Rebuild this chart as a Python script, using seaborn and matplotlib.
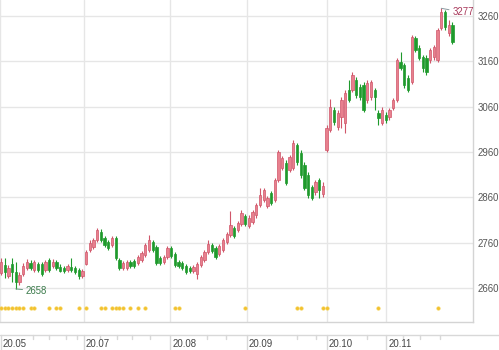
import matplotlib
matplotlib.use("Agg")
import matplotlib.pyplot as plt
import seaborn as sns
import numpy as np
import pandas as pd
from matplotlib.transforms import blended_transform_factory
from matplotlib.lines import Line2D

# ---------------- data (daily candles, late May - Nov 2020) ----------------
opens = [2693, 2711, 2686, 2713, 2695, 2673, 2691, 2704, 2715, 2700,
         2713, 2713, 2700, 2722, 2708, 2717, 2706, 2704, 2700, 2706,
         2704, 2700, 2686, 2713, 2744, 2750, 2766, 2783, 2770, 2761,
         2755, 2770, 2722, 2704, 2704, 2717, 2720, 2715, 2722, 2733,
         2744, 2761, 2750, 2726, 2717, 2728, 2748, 2735, 2717, 2715,
         2708, 2704, 2697, 2691, 2711, 2722, 2739, 2755, 2748, 2735,
         2744, 2761, 2777, 2792, 2788, 2801, 2819, 2797, 2806, 2821,
         2843, 2854, 2841, 2870, 2854, 2898, 2925, 2936, 2920, 2925,
         2975, 2958, 2931, 2909, 2883, 2872, 2898, 2867, 2964, 3008,
         3053, 3015, 3037, 3024, 3097, 3097, 3119, 3103, 3108, 3075,
         3081, 3097, 3046, 3024, 3042, 3037, 3057, 3075, 3159, 3152,
         3123, 3114, 3211, 3189, 3170, 3167, 3163, 3170, 3163, 3234,
         3269, 3223, 3240]
highs = [2726, 2726, 2711, 2726, 2717, 2695, 2715, 2724, 2722, 2722,
         2717, 2717, 2722, 2726, 2724, 2722, 2713, 2708, 2713, 2726,
         2708, 2704, 2702, 2744, 2766, 2770, 2792, 2790, 2775, 2766,
         2775, 2775, 2726, 2720, 2722, 2722, 2724, 2733, 2742, 2759,
         2777, 2766, 2755, 2731, 2733, 2753, 2753, 2739, 2722, 2720,
         2713, 2708, 2711, 2717, 2733, 2744, 2766, 2759, 2753, 2757,
         2770, 2783, 2830, 2797, 2808, 2832, 2823, 2821, 2832, 2847,
         2881, 2881, 2863, 2874, 2903, 2964, 2951, 2942, 2953, 2986,
         2980, 2964, 2938, 2916, 2887, 2898, 2903, 2894, 3020, 3077,
         3059, 3053, 3081, 3097, 3119, 3136, 3125, 3110, 3114, 3119,
         3119, 3101, 3053, 3059, 3048, 3057, 3079, 3167, 3181, 3156,
         3130, 3218, 3216, 3196, 3174, 3174, 3189, 3196, 3234, 3277,
         3273, 3251, 3247]
lows = [2689, 2682, 2682, 2673, 2658, 2667, 2686, 2700, 2700, 2695,
        2695, 2686, 2695, 2695, 2704, 2700, 2695, 2693, 2695, 2695,
        2691, 2680, 2682, 2711, 2739, 2746, 2761, 2761, 2750, 2744,
        2750, 2722, 2700, 2700, 2700, 2704, 2704, 2711, 2717, 2728,
        2739, 2739, 2711, 2711, 2713, 2724, 2726, 2706, 2704, 2700,
        2691, 2693, 2693, 2680, 2706, 2717, 2735, 2737, 2724, 2731,
        2739, 2757, 2772, 2770, 2783, 2797, 2797, 2792, 2801, 2814,
        2839, 2850, 2836, 2843, 2850, 2894, 2920, 2887, 2916, 2920,
        2931, 2903, 2876, 2859, 2854, 2865, 2859, 2861, 2960, 3004,
        3020, 3008, 3013, 3002, 3070, 3092, 3079, 3075, 3048, 3068,
        3075, 3053, 3020, 3020, 3024, 3031, 3053, 3070, 3141, 3101,
        3092, 3110, 3181, 3163, 3136, 3130, 3156, 3163, 3159, 3229,
        3229, 3216, 3198]
closes = [2717, 2695, 2704, 2695, 2673, 2689, 2708, 2717, 2704, 2717,
          2700, 2691, 2717, 2700, 2717, 2704, 2697, 2697, 2708, 2700,
          2695, 2686, 2697, 2739, 2759, 2766, 2788, 2766, 2755, 2748,
          2770, 2726, 2704, 2715, 2717, 2708, 2708, 2728, 2737, 2755,
          2766, 2744, 2715, 2715, 2728, 2748, 2731, 2711, 2708, 2704,
          2695, 2697, 2706, 2713, 2728, 2739, 2757, 2742, 2728, 2753,
          2766, 2779, 2799, 2775, 2803, 2825, 2801, 2814, 2828, 2843,
          2865, 2876, 2859, 2847, 2898, 2960, 2947, 2892, 2949, 2980,
          2938, 2909, 2881, 2865, 2859, 2894, 2876, 2885, 3013, 3059,
          3026, 3046, 3075, 3090, 3075, 3130, 3086, 3081, 3053, 3112,
          3114, 3081, 3035, 3053, 3031, 3053, 3075, 3163, 3145, 3108,
          3097, 3214, 3185, 3167, 3145, 3136, 3185, 3192, 3229, 3269,
          3236, 3240, 3203]

month_labels = ["20.05", "20.07", "20.08", "20.09", "20.10", "20.11"]
month_pos = [-0.25, 22.4, 45.7, 66.5, 88.1, 104.1]     # candle index of month boundary
minor_pos = [8.6, 13, 17.6, 20.5, 26.8, 31.4, 35.4, 40.3, 55.7, 60.8,
             80, 85.1, 99, 108.6, 113.2, 118.6]
y_ticks = [2660, 2760, 2860, 2960, 3060, 3160, 3260]
event_idx = [0, 1, 2, 3, 4, 5, 6, 8, 9, 13, 15, 16, 21, 23, 27, 28, 30, 31,
             32, 33, 35, 37, 39, 47, 48, 66, 80, 81, 87, 88, 102, 118]
event_level = 2615
max_label, min_label = "3277", "2658"

df = pd.DataFrame({"open": opens, "high": highs, "low": lows, "close": closes})
df["idx"] = np.arange(len(df))
df["up"] = df["close"] >= df["open"]

# ---------------- style ----------------
sns.set_style("white")
plt.rcParams["font.family"] = ["Liberation Sans", "DejaVu Sans"]

W, H = 499, 350
fig = plt.figure(figsize=(W / 100, H / 100), dpi=100)
ax = fig.add_axes([0, 28 / H, 473 / W, 322 / H])

RED_FILL, RED_EDGE = "#e8808e", "#d0566a"
GREEN = "#1f9a2c"
FS = 6.9

up = df[df["up"]]
dn = df[~df["up"]]
ax.vlines(up["idx"], up["low"], up["high"], color=RED_EDGE, lw=0.8, zorder=3)
ax.vlines(dn["idx"], dn["low"], dn["high"], color=GREEN, lw=0.8, zorder=3)
ax.bar(up["idx"], up["close"] - up["open"], bottom=up["open"], width=0.62,
       color=RED_FILL, edgecolor=RED_EDGE, linewidth=0.5, zorder=4)
ax.bar(dn["idx"], dn["open"] - dn["close"], bottom=dn["close"], width=0.62,
       color=GREEN, edgecolor=GREEN, linewidth=0.5, zorder=4)

ev = pd.DataFrame({"idx": event_idx, "y": [event_level] * len(event_idx)})
sns.scatterplot(data=ev, x="idx", y="y", ax=ax, color="#f3c230", s=7,
                edgecolor="#f7d96a", linewidth=0.3, zorder=5, legend=False)

ax.set_xlim(-0.27, 127.57)
ax.set_ylim(2585, 3295.3)
ax.set_yticks(y_ticks)
ax.yaxis.tick_right()
ax.tick_params(axis="y", length=0, pad=3.5, labelsize=FS, labelcolor="#555555")
ax.set_xticks(month_pos)
ax.set_xticklabels([])
ax.tick_params(axis="x", length=0)
ax.grid(True, color="#e6e6e6", lw=1)
ax.set_axisbelow(True)
ax.set_xlabel("")
ax.set_ylabel("")
for s in ["left", "top"]:
    ax.spines[s].set_visible(False)
ax.spines["right"].set_color("#d4d4d4")
ax.spines["bottom"].set_color("#d4d4d4")
ax.spines["right"].set_linewidth(1)
ax.spines["bottom"].set_linewidth(1)

# max / min annotations
imax = int(np.argmax(highs))
imin = int(np.argmin(lows))
ax.annotate(max_label, xy=(imax, highs[imax]), xytext=(11, -4),
            textcoords="offset pixels", fontsize=FS, color="#a8385a",
            va="center", ha="left",
            arrowprops=dict(arrowstyle="-", color="#8a9aa0", lw=0.7,
                            shrinkA=0, shrinkB=0))
ax.annotate(min_label, xy=(imin, lows[imin]), xytext=(10, -2),
            textcoords="offset pixels", fontsize=FS, color="#3a7a4a",
            va="center", ha="left",
            arrowprops=dict(arrowstyle="-", color="#6a9a80", lw=0.7,
                            shrinkA=0, shrinkB=0))

# date axis strip
ybase = 15 / H
fig.add_artist(Line2D([0, 1], [ybase, ybase], transform=fig.transFigure,
                      color="#d8d8d8", lw=1))
bt = blended_transform_factory(ax.transData, fig.transFigure)
for p, lab in zip(month_pos, month_labels):
    ax.add_line(Line2D([max(p, 0.0), max(p, 0.0)], [ybase, 0], transform=bt,
                       color="#d8d8d8", lw=1, clip_on=False))
    ax.annotate(lab, xy=(max(p, 0.0), 6 / H), xycoords=bt, xytext=(2, 0),
                textcoords="offset pixels", fontsize=FS, color="#444444",
                va="center", ha="left", annotation_clip=False)
for p in minor_pos:
    ax.add_line(Line2D([p, p], [ybase, ybase - 4 / H], transform=bt,
                       color="#d8d8d8", lw=1, clip_on=False))

fig.savefig("out.png", dpi=100)
